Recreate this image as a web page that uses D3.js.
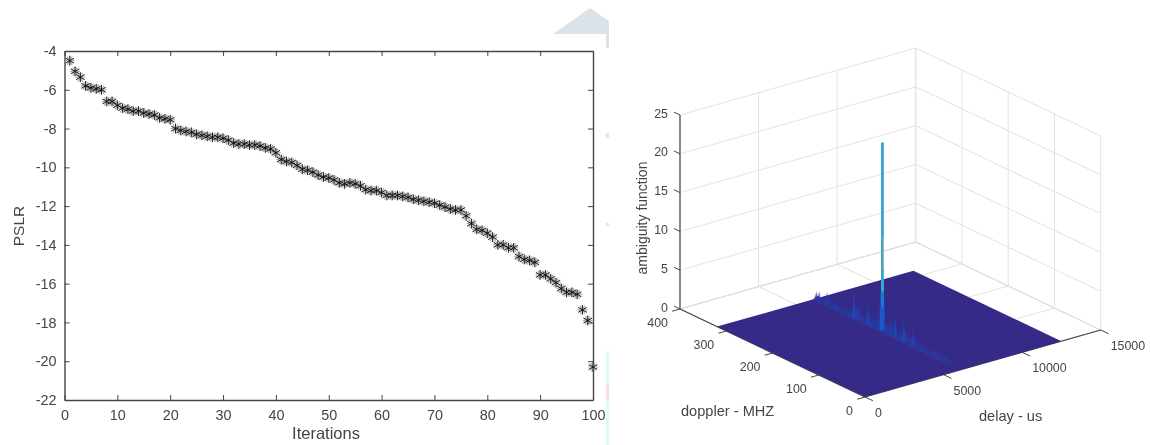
<!DOCTYPE html>
<html>
<head>
<meta charset="utf-8">
<script src="https://cdn.jsdelivr.net/npm/d3@7"></script>
<style>
html, body { margin: 0; padding: 0; background: #fff; }
text { font-family: "Liberation Sans", Arial, sans-serif; fill: #444; }
</style>
</head>
<body>
<svg id="chart" width="1150" height="445"></svg>
<script>
// left panel: PSLR per iteration
var pslr = [-4.5,-5.05,-5.35,-5.8,-5.9,-5.95,-6.0,-6.6,-6.6,-6.8,
  -6.95,-7.0,-7.1,-7.1,-7.2,-7.25,-7.3,-7.45,-7.5,-7.55,
  -8.0,-8.1,-8.15,-8.2,-8.3,-8.35,-8.4,-8.45,-8.45,-8.5,
  -8.6,-8.75,-8.8,-8.8,-8.85,-8.85,-8.9,-9.0,-9.05,-9.25,
  -9.6,-9.7,-9.75,-9.9,-10.1,-10.15,-10.25,-10.4,-10.5,-10.55,
  -10.65,-10.8,-10.85,-10.8,-10.85,-10.95,-11.15,-11.2,-11.2,-11.3,
  -11.45,-11.45,-11.45,-11.5,-11.55,-11.65,-11.7,-11.75,-11.8,-11.85,
  -11.95,-12.05,-12.15,-12.2,-12.2,-12.5,-12.9,-13.2,-13.25,-13.4,
  -13.6,-14.0,-14.0,-14.15,-14.15,-14.6,-14.75,-14.8,-14.9,-15.55,
  -15.55,-15.75,-15.95,-16.25,-16.45,-16.45,-16.55,-17.35,-17.9,-20.3];
var iterTicks = [0,10,20,30,40,50,60,70,80,90,100];
var pslrTicks = [-22,-20,-18,-16,-14,-12,-10,-8,-6,-4];

// right panel: ambiguity surface
var delayTicks = [0,5000,10000,15000];
var dopplerTicks = [0,100,200,300,400];
var zTicks = [0,5,10,15,20,25];
var surfaceDelay = [0,12500];
var surfaceDoppler = [0,320];
var ridgeDelay = 6270;
var ridgeDoppler = [318,312,305,295,285,278,268,255,245,237,228,218,206,196,186,166,158,148,138,129,119,109,100,90,80,70,57,46,36,27];
var ridgeHeight = [1,1.2,.6,1.6,1,1.4,.7,.9,1.1,3.1,2,1.3,2.7,1.5,1.8,1.6,2,2.9,1.4,2.8,1.2,2.2,1,1.2,.7,.9,1.2,.7,1,.5];
var peakDoppler = 176;
var peakLevels = [0,3,5,8,12,16,20,24.2];

var parula = d3.scaleLinear()
  .domain([0,3.5,7,10.5,14,18,21,25])
  .range(["#352a87","#0363e1","#1485d4","#06a7c6","#38b99e","#92bf73","#d9ba56","#f9fb0e"]);

var svg = d3.select("#chart");
var defs = svg.append("defs");
defs.append("filter").attr("id","soft").attr("x","-5%").attr("y","-5%").attr("width","110%").attr("height","110%")
  .append("feGaussianBlur").attr("stdDeviation",0.45);

// bits of the page behind the figure
var scraps = svg.append("g").attr("filter","url(#soft)");
scraps.append("path").attr("d","M553,34L590,8L609,21V34Z").attr("fill","#dbe3e8");
scraps.append("rect").attr("x",606).attr("y",34).attr("width",3).attr("height",14).attr("fill","#dbe3e8");
scraps.append("rect").attr("x",606).attr("y",133).attr("width",3).attr("height",5).attr("fill","#dfe7ec");
scraps.append("rect").attr("x",606).attr("y",223).attr("width",3).attr("height",3).attr("fill","#dfe7ec");
scraps.append("rect").attr("x",606).attr("y",351).attr("width",3).attr("height",94).attr("fill","#dcfbfb");
scraps.append("rect").attr("x",606).attr("y",385).attr("width",3).attr("height",14).attr("fill","#fcdcdc");

// ---- left panel
var left = svg.append("g").attr("filter","url(#soft)");
var x = d3.scaleLinear().domain([0,100]).range([64.5,593]);
var y = d3.scaleLinear().domain([-22,-4]).range([400,51]);
var axisColor = "#444";

left.append("g").attr("transform","translate(0,400)")
  .call(d3.axisBottom(x).tickValues(iterTicks).tickSizeInner(-5).tickSizeOuter(0).tickPadding(10).tickFormat(String));
left.append("g").attr("transform","translate(0,51)")
  .call(d3.axisTop(x).tickValues(iterTicks).tickSizeInner(-5).tickSizeOuter(0).tickFormat(""));
left.append("g").attr("transform","translate(64.5,0)")
  .call(d3.axisLeft(y).tickValues(pslrTicks).tickSizeInner(-5).tickSizeOuter(0).tickPadding(8).tickFormat(String));
left.append("g").attr("transform","translate(593,0)")
  .call(d3.axisRight(y).tickValues(pslrTicks).tickSizeInner(-5).tickSizeOuter(0).tickFormat(""));
left.selectAll(".domain").attr("stroke",axisColor).attr("stroke-width",1.4);
left.selectAll(".tick line").attr("stroke",axisColor);
left.selectAll(".tick text").attr("font-size",14.4).attr("fill","#444");

// marker: grey halo under a dark star
var star = d3.symbol().type(d3.symbolAsterisk).size(66);
var marks = left.append("g");
[[0,"#aaa",1.1],[90,"#aaa",1.1],[0,"#000",0.8]].forEach(function(m) {
  marks.append("g").selectAll("path").data(pslr).join("path")
    .attr("d",star)
    .attr("transform",function(d,i){ return "translate("+x(i+1)+","+y(d)+") rotate("+m[0]+")"; })
    .attr("fill","none").attr("stroke",m[1]).attr("stroke-width",m[2]);
});

left.append("text").attr("x",326).attr("y",439).attr("text-anchor","middle").attr("font-size",16.5).text("Iterations");
left.append("text").attr("transform","translate(24,226) rotate(-90)").attr("text-anchor","middle").attr("font-size",15.5).text("PSLR");

// ---- right panel: plain parallel projection of the three axes
var delayX = d3.scaleLinear().domain([0,15000]).range([0,235.7]);
var delayY = d3.scaleLinear().domain([0,15000]).range([0,-67]);
var dopX = d3.scaleLinear().domain([0,400]).range([0,-185]);
var dopY = d3.scaleLinear().domain([0,400]).range([0,-88]);
var zY = d3.scaleLinear().domain([0,25]).range([0,-194]);
function px(de,dp) { return 865 + delayX(de) + dopX(dp); }
function py(de,dp,z) { return 397 + delayY(de) + dopY(dp) + zY(z||0); }
function pts(list) {
  return list.map(function(c){ return px(c[0],c[1])+","+py(c[0],c[1],c[2]); }).join(" ");
}
function seg(g,a,b,color,w) {
  return g.append("line")
    .attr("x1",px(a[0],a[1])).attr("y1",py(a[0],a[1],a[2]))
    .attr("x2",px(b[0],b[1])).attr("y2",py(b[0],b[1],b[2]))
    .attr("stroke",color).attr("stroke-width",w);
}

var right = svg.append("g").attr("filter","url(#soft)");
var grid = right.append("g");
var gridColor = "#e2e2e2";
zTicks.forEach(function(z) {
  seg(grid,[0,400,z],[15000,400,z],z==0?"#c4c4c4":gridColor,1);
  seg(grid,[15000,400,z],[15000,0,z],z==0?"#c4c4c4":gridColor,1);
});
delayTicks.forEach(function(d) {
  seg(grid,[d,400,0],[d,400,25],gridColor,1);
  seg(grid,[d,400,0],[d,0,0],gridColor,1);
});
dopplerTicks.forEach(function(d) {
  seg(grid,[15000,d,0],[15000,d,25],gridColor,1);
  seg(grid,[0,d,0],[15000,d,0],gridColor,1);
});

// axis lines and ticks
var ax3 = right.append("g");
var dark = "#444";
seg(ax3,[0,400,0],[0,400,25],dark,1.2);
seg(ax3,[0,400,0],[0,0,0],dark,1.2);
seg(ax3,[0,0,0],[15000,0,0],dark,1.2);
zTicks.forEach(function(z) {
  seg(ax3,[0,400,z],[0,413,z],dark,1);
  ax3.append("text").attr("x",px(0,400)-12).attr("y",py(0,400,z)+2.5)
    .attr("text-anchor","end").attr("font-size",12.4).text(z);
});
dopplerTicks.forEach(function(d) {
  seg(ax3,[0,d,0],[-500,d,0],dark,1);
  ax3.append("text").attr("x",px(0,d)-12).attr("y",py(0,d)+18)
    .attr("text-anchor","end").attr("font-size",12.4).text(d);
});
delayTicks.forEach(function(d) {
  seg(ax3,[d,0,0],[d,-17,0],dark,1);
  ax3.append("text").attr("x",px(d,0)+10).attr("y",py(d,0)+20)
    .attr("text-anchor","start").attr("font-size",12.4).text(d);
});

// flat part of the surface
var corners = [[surfaceDelay[0],surfaceDoppler[0]],[surfaceDelay[1],surfaceDoppler[0]],
  [surfaceDelay[1],surfaceDoppler[1]],[surfaceDelay[0],surfaceDoppler[1]]];
var surf = right.append("g");
surf.append("polygon").attr("fill","#352a87").attr("points",pts(corners));

// low haze of sidelobes along constant delay
var hazeTop = ridgeDoppler.map(function(d,i){ return [ridgeDelay,d,ridgeHeight[i]*0.45]; });
var hazeBase = [[ridgeDelay-260,ridgeDoppler[ridgeDoppler.length-1],0],[ridgeDelay-260,ridgeDoppler[0],0]];
surf.append("polygon").attr("fill","#2e389e").attr("fill-opacity",0.8)
  .attr("points",pts(hazeTop.concat(hazeBase)));

// spikes on top of the haze
ridgeDoppler.forEach(function(d,i) {
  var h = ridgeHeight[i];
  surf.append("polygon").attr("fill",parula(h*0.8)).attr("fill-opacity",0.7)
    .attr("points",pts([[ridgeDelay,d+4,0],[ridgeDelay,d,h],[ridgeDelay,d-4,0],[ridgeDelay-120,d,0]]));
});

// main peak
var peak = right.append("g");
peakLevels.slice(1).forEach(function(z,i) {
  var z0 = peakLevels[i];
  var mid = (z0+z)/2;
  seg(peak,[ridgeDelay,peakDoppler,z0],[ridgeDelay,peakDoppler,z], mid<12 ? parula(Math.min(21,mid*2.2)) : "#4ab0b8", 1.6)
    .attr("transform","translate(1,0)");
  seg(peak,[ridgeDelay,peakDoppler,z0],[ridgeDelay,peakDoppler,z], z0<3 ? "#1a55cc" : (z0<5 ? "#1678d8" : "#38a4dc"), z0<3 ? 5 : (z0<5 ? 3 : 2.2));
});

right.append("text").attr("transform","translate(647,218) rotate(-90)").attr("text-anchor","middle").attr("font-size",14).text("ambiguity function");
right.append("text").attr("x",681).attr("y",416).attr("font-size",14.6).text("doppler - MHZ");
right.append("text").attr("x",979).attr("y",421).attr("font-size",14.6).text("delay - us");
</script>
</body>
</html>
